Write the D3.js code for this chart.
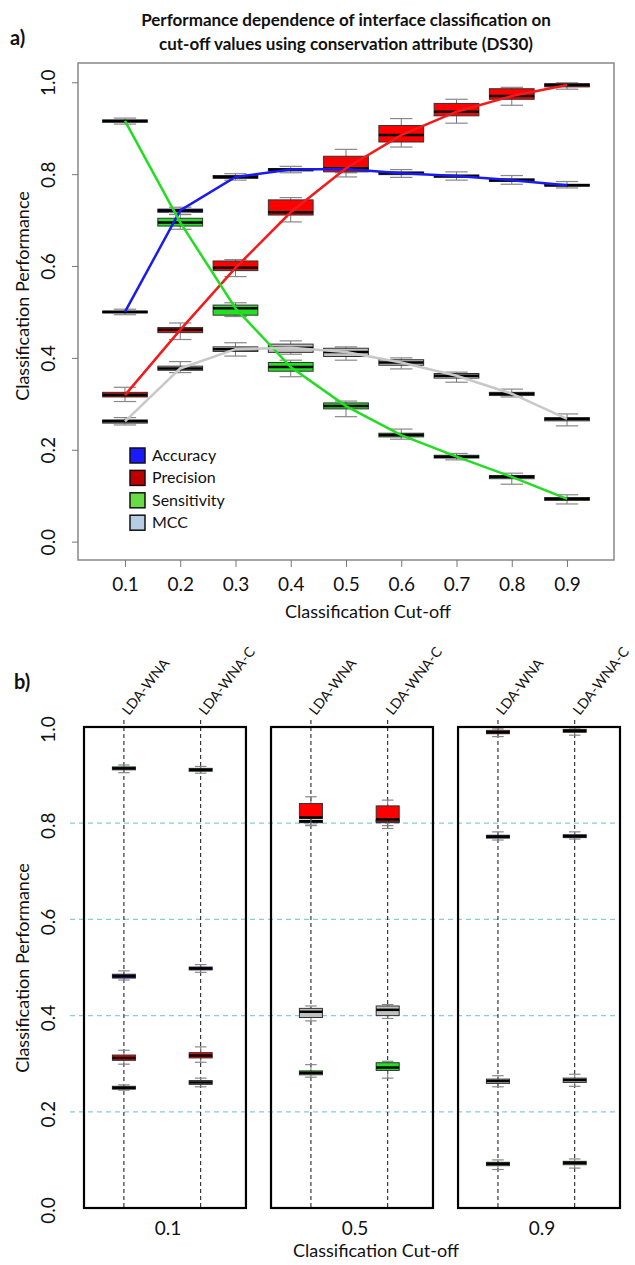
<!DOCTYPE html>
<html>
<head>
<meta charset="utf-8">
<script src="https://cdn.jsdelivr.net/npm/d3@7"></script>
<style>
  body { margin: 0; background: #fff; }
  text { font-family: Lato, "Open Sans", sans-serif; fill: #111; }
</style>
</head>
<body>
<div id="chart"></div>
<script>
// ---- data: [lower whisker, q1, median, q3, upper whisker] ----
const cutoffs = [0.1, 0.2, 0.3, 0.4, 0.5, 0.6, 0.7, 0.8, 0.9];
const metrics = ["Accuracy", "Precision", "Sensitivity", "MCC"];

const accuracyStats = [
  [0.494, 0.498, 0.500, 0.502, 0.506], [0.712, 0.717, 0.721, 0.724, 0.728],
  [0.787, 0.791, 0.794, 0.797, 0.801], [0.803, 0.807, 0.810, 0.812, 0.817],
  [0.803, 0.808, 0.811, 0.813, 0.817], [0.793, 0.799, 0.802, 0.805, 0.810],
  [0.787, 0.793, 0.796, 0.798, 0.805], [0.778, 0.784, 0.787, 0.790, 0.797],
  [0.770, 0.774, 0.776, 0.778, 0.784]
];
const precisionStats = [
  [0.305, 0.315, 0.319, 0.325, 0.336], [0.440, 0.455, 0.461, 0.466, 0.476],
  [0.577, 0.590, 0.596, 0.611, 0.614], [0.696, 0.711, 0.717, 0.744, 0.749],
  [0.794, 0.805, 0.813, 0.839, 0.854], [0.859, 0.870, 0.885, 0.906, 0.921],
  [0.911, 0.927, 0.936, 0.954, 0.963], [0.950, 0.963, 0.970, 0.986, 0.989],
  [0.985, 0.990, 0.994, 0.997, 0.999]
];
const sensitivityStats = [
  [0.909, 0.913, 0.916, 0.918, 0.922], [0.680, 0.687, 0.695, 0.704, 0.716],
  [0.490, 0.493, 0.508, 0.515, 0.520], [0.359, 0.371, 0.380, 0.390, 0.395],
  [0.272, 0.289, 0.295, 0.302, 0.306], [0.223, 0.228, 0.232, 0.236, 0.245],
  [0.178, 0.182, 0.185, 0.188, 0.192], [0.125, 0.137, 0.141, 0.144, 0.149],
  [0.082, 0.090, 0.093, 0.096, 0.102]
];
const mccStats = [
  [0.254, 0.258, 0.262, 0.265, 0.270], [0.368, 0.373, 0.377, 0.382, 0.392],
  [0.404, 0.414, 0.419, 0.424, 0.433], [0.408, 0.412, 0.422, 0.430, 0.437],
  [0.395, 0.403, 0.413, 0.421, 0.424], [0.376, 0.384, 0.390, 0.396, 0.400],
  [0.347, 0.356, 0.361, 0.366, 0.369], [0.315, 0.318, 0.322, 0.325, 0.332],
  [0.252, 0.263, 0.267, 0.270, 0.278]
];

// panel b: per cut-off, [LDA-WNA, LDA-WNA-C]
const panelCutoffs = ["0.1", "0.5", "0.9"];
const methods = ["LDA-WNA", "LDA-WNA-C"];
const bAccuracy = [
  [[0.474, 0.478, 0.482, 0.486, 0.493], [0.490, 0.495, 0.498, 0.501, 0.506]],
  [[0.796, 0.801, 0.804, 0.806, 0.810], [0.795, 0.801, 0.805, 0.807, 0.811]],
  [[0.765, 0.769, 0.772, 0.775, 0.782], [0.767, 0.770, 0.773, 0.776, 0.782]]
];
const bPrecision = [
  [[0.299, 0.307, 0.312, 0.318, 0.328], [0.303, 0.312, 0.317, 0.323, 0.335]],
  [[0.795, 0.810, 0.812, 0.841, 0.855], [0.789, 0.803, 0.808, 0.836, 0.848]],
  [[0.980, 0.986, 0.989, 0.993, 0.996], [0.983, 0.989, 0.992, 0.995, 0.998]]
];
const bSensitivity = [
  [[0.905, 0.911, 0.914, 0.917, 0.921], [0.904, 0.908, 0.911, 0.914, 0.918]],
  [[0.272, 0.277, 0.281, 0.285, 0.298], [0.270, 0.286, 0.292, 0.302, 0.305]],
  [[0.080, 0.088, 0.092, 0.095, 0.100], [0.083, 0.090, 0.094, 0.097, 0.102]]
];
const bMcc = [
  [[0.245, 0.247, 0.250, 0.253, 0.256], [0.252, 0.257, 0.261, 0.265, 0.270]],
  [[0.389, 0.396, 0.408, 0.415, 0.420], [0.394, 0.400, 0.412, 0.420, 0.423]],
  [[0.252, 0.259, 0.264, 0.268, 0.275], [0.253, 0.261, 0.266, 0.270, 0.278]]
];

const yTicks = [0, 0.2, 0.4, 0.6, 0.8, 1.0];

const width = 635;
const height = 1265;

const boxFill = {Accuracy: "#1c1ce0", Precision: "#ff0000", Sensitivity: "#22e022", MCC: "#c0c0c0"};
const lineColor = {Accuracy: "#1a1af2", Precision: "#f21a1a", Sensitivity: "#22dd22", MCC: "#c8c8c8"};
const legendFill = {Accuracy: "#1a1aff", Precision: "#c00000", Sensitivity: "#66dd44", MCC: "#b8cce4"};

const viz = d3.select("#chart")
  .append("svg")
  .attr("width", width)
  .attr("height", height);

// draws one box with whiskers
function drawBox(g, cx, w, s, y, fill) {
  g.append("line")
    .attr("x1", cx).attr("x2", cx)
    .attr("y1", y(s[0])).attr("y2", y(s[4]))
    .attr("stroke", "#777").attr("stroke-width", 1);
  [s[0], s[4]].forEach(function(v) {
    g.append("line")
      .attr("x1", cx - w / 4).attr("x2", cx + w / 4)
      .attr("y1", y(v)).attr("y2", y(v))
      .attr("stroke", "#888").attr("stroke-width", 1.2);
  });
  g.append("rect")
    .attr("x", cx - w / 2)
    .attr("y", y(s[3]))
    .attr("width", w)
    .attr("height", Math.max(y(s[1]) - y(s[3]), 1))
    .attr("fill", fill)
    .attr("stroke", "#333")
    .attr("stroke-width", 1);
  g.append("line")
    .attr("x1", cx - w / 2).attr("x2", cx + w / 2)
    .attr("y1", y(s[2])).attr("y2", y(s[2]))
    .attr("stroke", "#000").attr("stroke-width", 2.5);
}

// =================== PANEL A ===================
const frameA = {left: 78, right: 614, top: 63, bottom: 560};

const xA = d3.scaleLinear()
  .domain([0.015, 0.985])
  .range([frameA.left, frameA.right]);

const yA = d3.scaleLinear()
  .domain([-0.04, 1.042])
  .range([frameA.bottom, frameA.top]);

viz.append("text")
  .attr("x", 10).attr("y", 45)
  .attr("font-size", 20).attr("font-weight", "bold")
  .text("a)");

viz.append("text")
  .attr("x", 346).attr("y", 26)
  .attr("text-anchor", "middle")
  .attr("font-size", 17).attr("font-weight", "bold")
  .text("Performance dependence of interface classification on");
viz.append("text")
  .attr("x", 346).attr("y", 50)
  .attr("text-anchor", "middle")
  .attr("font-size", 17).attr("font-weight", "bold")
  .text("cut-off values using conservation attribute (DS30)");

viz.append("rect")
  .attr("x", frameA.left).attr("y", frameA.top)
  .attr("width", frameA.right - frameA.left)
  .attr("height", frameA.bottom - frameA.top)
  .attr("fill", "none")
  .attr("stroke", "#888")
  .attr("stroke-width", 1.5);

const xAxisA = viz.append("g")
  .attr("transform", `translate(0,${frameA.bottom})`)
  .call(d3.axisBottom(xA).tickValues(cutoffs).tickFormat(d3.format(".1f")).tickSize(7));
xAxisA.select(".domain").remove();
xAxisA.selectAll("line").attr("stroke", "#777");
xAxisA.selectAll("text")
  .attr("font-size", 19).attr("y", 18).attr("fill", "#111");

const yAxisA = viz.append("g")
  .attr("transform", `translate(${frameA.left},0)`)
  .call(d3.axisLeft(yA).tickValues(yTicks).tickFormat(d3.format(".1f")).tickSize(6));
yAxisA.select(".domain").remove();
yAxisA.selectAll("line").attr("stroke", "#777");
yAxisA.selectAll("text")
  .attr("font-size", 19).attr("fill", "#111")
  .attr("x", 0).attr("dy", "0.35em")
  .attr("text-anchor", "middle")
  .attr("transform", "translate(-30,0) rotate(-90)");

viz.append("text")
  .attr("transform", "translate(29,296) rotate(-90)")
  .attr("text-anchor", "middle")
  .attr("font-size", 18)
  .text("Classification Performance");

viz.append("text")
  .attr("x", 368).attr("y", 618)
  .attr("text-anchor", "middle")
  .attr("font-size", 18)
  .text("Classification Cut-off");

const statsA = {Accuracy: accuracyStats, Precision: precisionStats, Sensitivity: sensitivityStats, MCC: mccStats};
const boxWA = xA(0.181) - xA(0.1);

const boxesA = viz.append("g");
metrics.forEach(function(m) {
  statsA[m].forEach(function(s, i) {
    drawBox(boxesA, xA(cutoffs[i]), boxWA, s, yA, boxFill[m]);
  });
});

const medianLine = d3.line()
  .x(function(d, i) { return xA(cutoffs[i]); })
  .y(function(d) { return yA(d[2]); });

metrics.forEach(function(m) {
  viz.append("path")
    .datum(statsA[m])
    .attr("d", medianLine)
    .attr("fill", "none")
    .attr("stroke", lineColor[m])
    .attr("stroke-width", 2.5);
});

// legend
const legend = viz.append("g").attr("transform", "translate(130,448)");
metrics.forEach(function(m, i) {
  legend.append("rect")
    .attr("x", 0).attr("y", i * 22.4)
    .attr("width", 15).attr("height", 15)
    .attr("fill", legendFill[m])
    .attr("stroke", "#111").attr("stroke-width", 1.5);
  legend.append("text")
    .attr("x", 22).attr("y", i * 22.4 + 13)
    .attr("font-size", 16)
    .text(m);
});

// =================== PANEL B ===================
const frameB = {left: 84, right: 620, top: 727, bottom: 1208};

const yB = d3.scaleLinear()
  .domain([0, 1])
  .range([frameB.bottom, frameB.top]);

const panelX = d3.scaleBand()
  .domain(panelCutoffs)
  .range([frameB.left, frameB.right])
  .paddingInner(0.134);

const methodX = d3.scaleLinear()
  .domain([0.48, 2.59])
  .range([0, panelX.bandwidth()]);

viz.append("text")
  .attr("x", 14).attr("y", 689)
  .attr("font-size", 20).attr("font-weight", "bold")
  .text("b)");

// light dashed grid
viz.append("g").selectAll("line")
  .data([0.2, 0.4, 0.6, 0.8])
  .enter()
  .append("line")
    .attr("x1", 70).attr("x2", 620)
    .attr("y1", function(d) { return yB(d); })
    .attr("y2", function(d) { return yB(d); })
    .attr("stroke", "#88cce0")
    .attr("stroke-width", 1.2)
    .attr("stroke-dasharray", "5,4");

const yAxisB = viz.append("g")
  .attr("transform", `translate(${frameA.left},0)`)
  .call(d3.axisLeft(yB).tickValues(yTicks).tickFormat(d3.format(".1f")).tickSize(0));
yAxisB.select(".domain").remove();
yAxisB.selectAll("text")
  .attr("font-size", 19).attr("fill", "#111")
  .attr("x", 0).attr("dy", "0.35em")
  .attr("text-anchor", "middle")
  .attr("transform", "translate(-30,2) rotate(-90)");

viz.append("text")
  .attr("transform", "translate(29,968) rotate(-90)")
  .attr("text-anchor", "middle")
  .attr("font-size", 18)
  .text("Classification Performance");

viz.append("text")
  .attr("x", 376).attr("y", 1257)
  .attr("text-anchor", "middle")
  .attr("font-size", 18)
  .text("Classification Cut-off");

const statsB = {Accuracy: bAccuracy, Precision: bPrecision, Sensitivity: bSensitivity, MCC: bMcc};
const boxWB = methodX(1.3) - methodX(1);

panelCutoffs.forEach(function(c, p) {
  const g = viz.append("g").attr("transform", `translate(${panelX(c)},0)`);

  methods.forEach(function(name, j) {
    const cx = methodX(j + 1);
    g.append("line")
      .attr("x1", cx).attr("x2", cx)
      .attr("y1", 720).attr("y2", frameB.bottom)
      .attr("stroke", "#111")
      .attr("stroke-width", 1)
      .attr("stroke-dasharray", "4,3");
    g.append("text")
      .attr("transform", `translate(${cx + 5},716) rotate(-52)`)
      .attr("font-size", 14)
      .text(name);
  });

  ["MCC", "Sensitivity", "Accuracy", "Precision"].forEach(function(m) {
    methods.forEach(function(name, j) {
      drawBox(g, methodX(j + 1), boxWB, statsB[m][p][j], yB, boxFill[m]);
    });
  });

  g.append("rect")
    .attr("x", 0).attr("y", frameB.top)
    .attr("width", panelX.bandwidth())
    .attr("height", frameB.bottom - frameB.top)
    .attr("fill", "none")
    .attr("stroke", "#000")
    .attr("stroke-width", 2.2);

  g.append("text")
    .attr("x", panelX.bandwidth() / 2 + 3)
    .attr("y", 1235)
    .attr("text-anchor", "middle")
    .attr("font-size", 19)
    .text(c);
});
</script>
</body>
</html>
